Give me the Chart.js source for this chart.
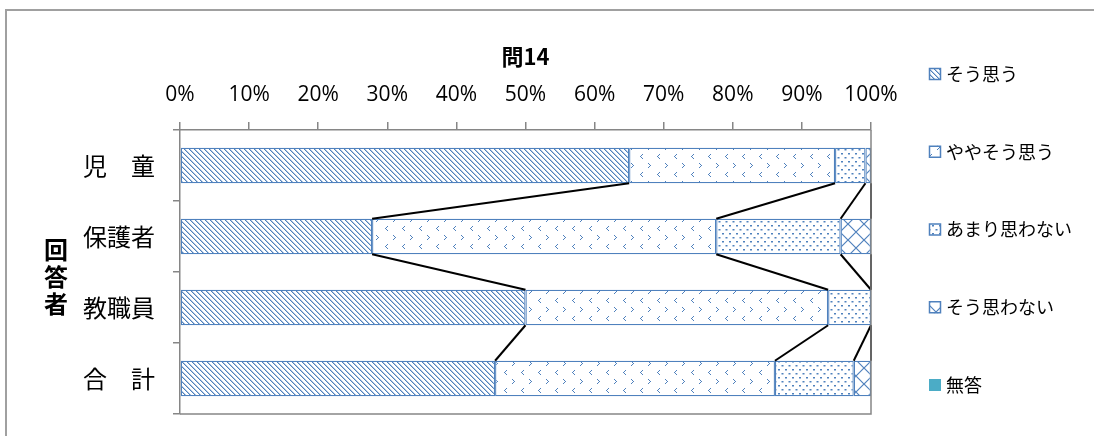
<!DOCTYPE html>
<html>
<head>
<meta charset="utf-8">
<script src="https://cdn.jsdelivr.net/npm/chart.js@4/dist/chart.umd.min.js"></script>
<style>
  body { margin: 0; background: #fff; overflow: hidden; }
  #frame { position: absolute; left: 5px; top: 9px; width: 1300px; height: 600px; border-left: 2px solid #a0a0a0; border-top: 2px solid #a0a0a0; }
  #myChart { position: absolute; left: 0; top: 0; }
</style>
</head>
<body>
<div id="frame"></div>
<canvas id="myChart" width="1094" height="436"></canvas>
<script>
//Dados do gráfico
const categorias = ["児　童", "保護者", "教職員", "合　計"];
const series = ["そう思う", "ややそう思う", "あまり思わない", "そう思わない", "無答"];
const soOmou = [65.0, 27.8, 50.0, 45.6];
const yayaSoOmou = [29.8, 49.8, 43.8, 40.5];
const amariOmowanai = [4.4, 18.0, 6.2, 11.4];
const soOmowanai = [0.8, 4.4, 0, 2.5];
const muto = [0, 0, 0, 0];
const ticksX = [0, 10, 20, 30, 40, 50, 60, 70, 80, 90, 100];
const titulo = "問14";
const tituloY = ["回", "答", "者"];

const azul = "#4f81bd";
const CJK = '"Noto Sans CJK JP"';

//Padrões de preenchimento
const tile = (w, h, draw) => {
  const c = document.createElement("canvas");
  c.width = w;
  c.height = h;
  const g = c.getContext("2d");
  g.fillStyle = "#fff";
  g.fillRect(0, 0, w, h);
  g.fillStyle = azul;
  g.strokeStyle = azul;
  draw(g);
  return g.createPattern(c, "repeat");
};

const padraoDiagonal = tile(5, 5, (g) => {
  for (let i = 0; i < 5; i++) {
    g.fillRect(i, i, 1, 1);
  }
  g.globalAlpha = 0.45;
  for (let i = 0; i < 5; i++) {
    g.fillRect((i + 1) % 5, i, 1, 1);
  }
});

const padraoSeta = tile(17, 18, (g) => {
  // ">"
  g.fillRect(2, 1, 1, 1);
  g.fillRect(3, 2, 1, 1);
  g.fillRect(4, 3, 1, 1);
  g.fillRect(3, 4, 1, 1);
  g.fillRect(2, 5, 1, 1);
  // "<"
  g.fillRect(13, 10, 1, 1);
  g.fillRect(12, 11, 1, 1);
  g.fillRect(11, 12, 1, 1);
  g.fillRect(12, 13, 1, 1);
  g.fillRect(13, 14, 1, 1);
});

const padraoPontos = tile(7, 8, (g) => {
  g.fillRect(1, 1, 2, 1.5);
  g.fillRect(4.5, 5, 2, 1.5);
});

const padraoCruz = tile(16, 16, (g) => {
  g.lineWidth = 1.2;
  g.beginPath();
  g.moveTo(0, 0);
  g.lineTo(16, 16);
  g.moveTo(16, 0);
  g.lineTo(0, 16);
  g.stroke();
});

const fundos = [padraoDiagonal, padraoSeta, padraoPontos, padraoCruz, "#4bacc6"];
const valores = [soOmou, yayaSoOmou, amariOmowanai, soOmowanai, muto];

//Linhas de série entre as barras
const linhasSerie = {
  id: "linhasSerie",
  afterDatasetsDraw(chart) {
    const ctx = chart.ctx;
    ctx.save();
    ctx.strokeStyle = "#000";
    ctx.lineWidth = 2;
    for (let d = 0; d < 4; d++) {
      const barras = chart.getDatasetMeta(d).data;
      for (let i = 0; i < barras.length - 1; i++) {
        const a = barras[i];
        const b = barras[i + 1];
        ctx.beginPath();
        ctx.moveTo(a.x, a.y + a.height / 2);
        ctx.lineTo(b.x, b.y - b.height / 2);
        ctx.stroke();
      }
    }
    ctx.restore();
  },
};

//Borda da área, título vertical e legenda
const extras = {
  id: "extras",
  afterDraw(chart) {
    const ctx = chart.ctx;
    const area = chart.chartArea;
    ctx.save();
    ctx.strokeStyle = "#868686";
    ctx.lineWidth = 1.5;
    ctx.beginPath();
    ctx.moveTo(area.right, area.top);
    ctx.lineTo(area.right, area.bottom);
    ctx.lineTo(area.left, area.bottom);
    ctx.stroke();

    ctx.fillStyle = "#000";
    ctx.font = "bold 24px " + CJK;
    ctx.textAlign = "center";
    ctx.textBaseline = "middle";
    tituloY.forEach((ch, i) => {
      ctx.fillText(ch, 56, 250 + i * 27);
    });

    ctx.font = "18px " + CJK;
    ctx.textAlign = "left";
    series.forEach((nome, i) => {
      const y = 74 + i * 77.75;
      ctx.fillStyle = fundos[i];
      ctx.fillRect(929, y - 6, 12, 12);
      if (i < 4) {
        ctx.strokeStyle = azul;
        ctx.lineWidth = 1.5;
        ctx.strokeRect(929.5, y - 5.5, 11, 11);
      }
      ctx.fillStyle = "#000";
      ctx.fillText(nome, 946, y);
    });
    ctx.restore();
  },
};

//Construção do gráfico
const grafico = () => {
  const ctx = document.getElementById("myChart").getContext("2d");
  new Chart(ctx, {
    type: "bar",
    data: {
      labels: categorias,
      datasets: series.map((nome, i) => ({
        label: nome,
        data: valores[i],
        backgroundColor: fundos[i],
        borderColor: azul,
        borderWidth: i < 4 ? 1.3 : 0,
        borderSkipped: false,
        barPercentage: 0.5,
        categoryPercentage: 1,
      })),
    },
    options: {
      indexAxis: "y",
      responsive: false,
      animation: false,
      devicePixelRatio: 1,
      layout: {
        padding: { top: 8, left: 70, right: 223, bottom: 22 },
      },
      plugins: {
        legend: { display: false },
        tooltip: { enabled: false },
        title: {
          display: true,
          text: titulo,
          fullSize: false,
          color: "#000",
          font: { family: CJK, size: 22, weight: "bold", lineHeight: 1.2 },
          padding: { top: 35, bottom: 0 },
        },
      },
      scales: {
        x: {
          position: "top",
          stacked: true,
          min: 0,
          max: 100,
          afterBuildTicks: (scale) => {
            scale.ticks = ticksX.map((v) => ({ value: v }));
          },
          afterFit: (scale) => {
            scale.height = 60.6;
          },
          ticks: {
            callback: (v) => v + "%",
            color: "#000",
            font: { family: "Open Sans", size: 21 },
            padding: 14,
            maxRotation: 0,
          },
          grid: {
            drawOnChartArea: false,
            tickLength: 8,
            color: "#868686",
            lineWidth: 1.5,
          },
          border: { color: "#868686", width: 1.5 },
        },
        y: {
          stacked: true,
          afterFit: (scale) => {
            scale.width = 110;
            scale.paddingTop = 0;
            scale.paddingBottom = 0;
          },
          ticks: {
            color: "#000",
            font: { family: CJK, size: 24 },
            padding: 18,
          },
          grid: {
            offset: true,
            drawOnChartArea: false,
            tickLength: 7,
            color: "#868686",
            lineWidth: 1.5,
          },
          border: { color: "#868686", width: 1.5 },
        },
      },
    },
    plugins: [linhasSerie, extras],
  });
};

grafico();
</script>
</body>
</html>
